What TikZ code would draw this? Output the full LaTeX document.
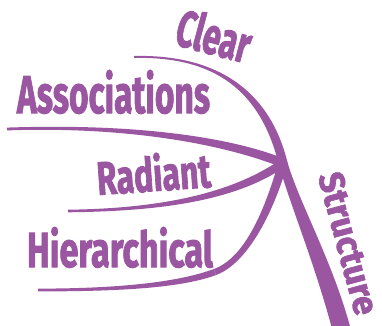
\documentclass[tikz,border=0pt]{standalone}
\usepackage{fontspec}
\usepackage{graphicx}
\usetikzlibrary{calc}
\newfontfamily\wordfont[BoldFeatures={FakeBold=2}]{Fira Sans}
\definecolor{mapviolet}{RGB}{155,86,161}

% Tapered branch along a cubic Bezier: #1..#4 are the curve points,
% #5 is the half-width at the start, #6 the half-width at the end.
\newcommand{\taperbranch}[6]{%
  \fill[mapviolet]
    ($(#1)!#5!90:(#2)$) .. controls ($(#2)!#5!-90:(#1)$) and ($(#3)!#6!90:(#4)$) .. ($(#4)!#6!-90:(#3)$)
    -- ($(#4)!#6!90:(#3)$) .. controls ($(#3)!#6!-90:(#4)$) and ($(#2)!#5!90:(#1)$) .. ($(#1)!#5!-90:(#2)$)
    -- cycle;}

\begin{document}
\begin{tikzpicture}[x=1pt,y=-1pt,
  word/.style={inner sep=0pt, outer sep=0pt, text=mapviolet,
               font=\wordfont\bfseries, anchor=base west}]
\useasboundingbox (0,0) rectangle (382,325);
\clip (0,0) rectangle (382,325);

% meeting point of all branches
\coordinate (hub) at (283,163);

% Clear
\coordinate (clearTip) at (134,57);
\coordinate (clearA)   at (215,55);
\coordinate (clearB)   at (265,90);
% Associations
\coordinate (assocTip) at (7,129);
\coordinate (assocA)   at (120,125);
\coordinate (assocB)   at (220,138);
% Radiant
\coordinate (radTip)   at (68,211);
\coordinate (radA)     at (150,210);
\coordinate (radB)     at (230,200);
% Hierarchical (two pieces)
\coordinate (hierTip)  at (38,290);
\coordinate (hierA)    at (120,290);
\coordinate (hierB)    at (180,285);
\coordinate (hierMid)  at (215,272);
\coordinate (hierC)    at (245,261);
\coordinate (hierD)    at (268,215);
% Structure
\coordinate (strA)     at (295,205);
\coordinate (strB)     at (325,265);
\coordinate (strEnd)   at (343,335);

\taperbranch{clearTip}{clearA}{clearB}{hub}{1pt}{4.5pt}
\taperbranch{assocTip}{assocA}{assocB}{hub}{1.4pt}{4.5pt}
\taperbranch{radTip}{radA}{radB}{hub}{1.3pt}{4.2pt}
\taperbranch{hierTip}{hierA}{hierB}{hierMid}{1.4pt}{3.2pt}
\taperbranch{hierMid}{hierC}{hierD}{hub}{3.2pt}{4.5pt}
\taperbranch{hub}{strA}{strB}{strEnd}{4.5pt}{9pt}
\fill[mapviolet] (hub) circle (4.5pt);

% labels
\node[word, rotate=-15] (clear)   at (173,44)  {\resizebox{75pt}{39pt}{Clear}};
\node[word]             (assoc)   at (17,113)  {\resizebox{193pt}{43pt}{Associations}};
\node[word, rotate=4]   (radiant) at (98,195)  {\resizebox{114pt}{38pt}{Radiant}};
\node[word]             (hier)    at (27,267)  {\resizebox{186pt}{40pt}{Hierarchical}};
\node[word, rotate=-75] (struct)  at (318,176) {\resizebox{146pt}{25pt}{Structure}};
\end{tikzpicture}
\end{document}
